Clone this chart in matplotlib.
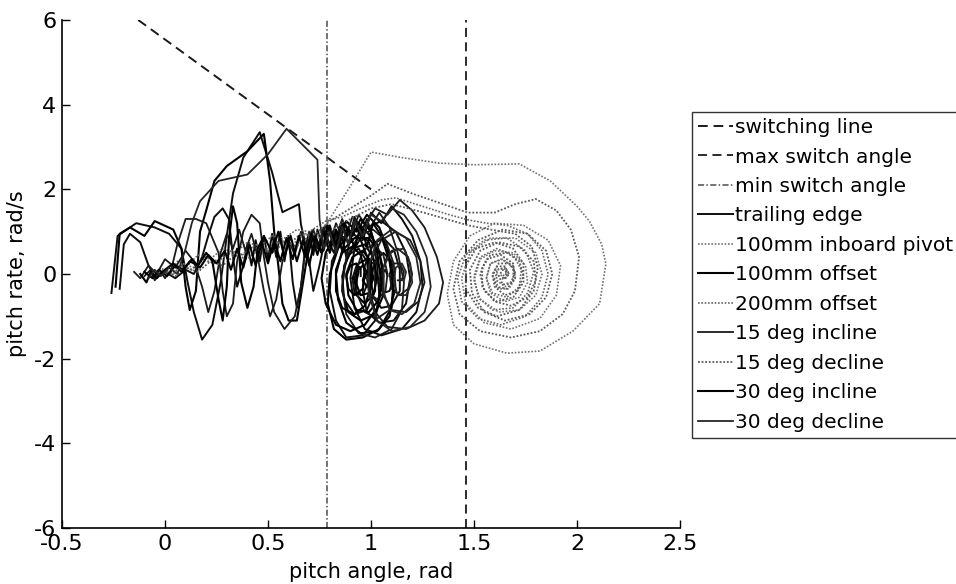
import matplotlib
matplotlib.use("Agg")
import matplotlib.pyplot as plt

plt.rcParams['font.family'] = ['DejaVu Sans']

# ---- switching boundaries ----
switch_line_x = [-0.13, 1.00]
switch_line_y = [6.0, 2.0]
max_switch_angle = 1.46
min_switch_angle = 0.785

# ---- phase trajectories (pitch angle, pitch rate), one list per trial ----
trailing_edge = [
    (-0.26, -0.45), (-0.23, 0.90), (-0.14, 1.20), (-0.05, 1.10), (0.02, 0.95), (0.08, 0.60),
    (0.11, -0.20), (0.14, -0.90), (0.18, -1.55), (0.23, -1.20), (0.27, -0.20), (0.30, 0.90),
    (0.33, 1.90), (0.38, 2.75), (0.46, 3.35), (0.52, 2.40), (0.57, 1.46), (0.65, 1.65),
    (0.66, 1.17), (0.70, 0.30), (0.72, -0.40), (0.75, 0.20), (0.78, 0.90), (0.82, 0.50),
    (0.85, 1.10), (0.88, 0.40), (0.92, 1.30), (0.96, 0.80), (1.00, 1.45), (1.05, 1.20),
    (1.10, 1.60), (1.15, 1.30), (1.20, 0.90), (1.24, 0.30), (1.25, -0.30), (1.22, -0.90),
    (1.15, -1.30), (1.05, -1.45), (0.97, -1.30), (0.92, -0.80), (0.90, -0.10), (0.92, 0.60),
    (0.98, 1.10), (1.05, 1.25), (1.12, 1.00), (1.17, 0.50), (1.19, -0.10), (1.17, -0.70),
    (1.11, -1.10), (1.04, -1.15), (0.98, -0.90), (0.96, -0.40), (0.97, 0.20), (1.01, 0.70),
    (1.06, 0.85), (1.11, 0.60), (1.14, 0.10), (1.14, -0.40), (1.10, -0.75), (1.05, -0.80),
    (1.01, -0.55), (1.00, -0.10), (1.02, 0.30), (1.06, 0.50), (1.10, 0.30), (1.11, -0.10),
    (1.09, -0.40), (1.06, -0.45), (1.04, -0.25), (1.05, 0.00), (1.07, 0.10), (1.08, -0.05),
]

trailing_edge_b = [
    (-0.22, -0.35), (-0.20, 0.70), (-0.17, 0.95), (-0.12, 0.75), (-0.08, 0.20), (-0.05, -0.05),
    (0.00, 0.05), (0.05, -0.10), (0.10, 0.10), (0.14, 0.00), (0.18, 0.40), (0.21, 0.90),
    (0.24, 1.35), (0.28, 1.55), (0.31, 1.30), (0.33, 0.40), (0.35, -0.30), (0.38, 0.20),
    (0.40, 0.70), (0.42, 0.20), (0.44, 0.80), (0.46, 0.30), (0.48, 0.90), (0.50, 0.35),
    (0.52, 0.95), (0.54, 0.40), (0.56, 1.00), (0.58, 0.30), (0.60, 0.90), (0.62, -0.20),
    (0.64, -0.80), (0.66, -0.30), (0.68, 0.60), (0.70, 1.00), (0.72, 0.45), (0.74, 1.05),
    (0.77, 0.55), (0.80, 1.15), (0.83, 0.60), (0.86, 1.20), (0.89, 0.70), (0.92, 1.35),
    (0.95, 0.90), (0.98, 1.30), (1.01, 0.85), (1.03, 0.20), (1.04, -0.50), (1.02, -1.10),
    (0.96, -1.45), (0.88, -1.50), (0.83, -1.10), (0.80, -0.40), (0.81, 0.30), (0.86, 0.85),
    (0.93, 1.05), (0.99, 0.75), (1.02, 0.20), (1.02, -0.40), (0.98, -0.85), (0.92, -0.95),
    (0.87, -0.60), (0.86, -0.05), (0.89, 0.45), (0.94, 0.60), (0.98, 0.30), (0.99, -0.15),
    (0.96, -0.50), (0.92, -0.45), (0.91, -0.10), (0.93, 0.20), (0.95, 0.15), (0.95, -0.05),
]

inboard_pivot_100mm = [
    (-0.10, 0.05), (-0.06, -0.10), (-0.02, 0.10), (0.03, 0.00), (0.08, 0.25), (0.14, 0.15),
    (0.20, 0.40), (0.26, 0.30), (0.32, 0.55), (0.38, 0.45), (0.44, 0.70), (0.50, 0.60),
    (0.56, 0.80), (0.62, 0.70), (0.68, 0.95), (0.74, 0.90), (0.78, 1.15), (0.89, 2.00),
    (1.00, 2.88), (1.15, 2.75), (1.33, 2.62), (1.50, 2.58), (1.72, 2.60), (1.87, 2.20),
    (2.00, 1.60), (2.06, 1.25), (2.12, 0.70), (2.14, 0.24), (2.11, -0.70), (1.98, -1.35),
    (1.82, -1.82), (1.66, -1.87), (1.50, -1.65), (1.40, -1.20), (1.37, -0.47), (1.40, 0.30),
    (1.48, 0.90), (1.60, 1.20), (1.74, 1.15), (1.86, 0.80), (1.92, 0.20), (1.90, -0.50),
    (1.82, -1.05), (1.68, -1.30), (1.55, -1.15), (1.46, -0.70), (1.44, -0.10), (1.48, 0.50),
    (1.58, 0.85), (1.70, 0.85), (1.80, 0.50), (1.83, 0.00), (1.80, -0.50), (1.72, -0.85),
    (1.62, -0.90), (1.53, -0.60), (1.50, -0.15), (1.53, 0.35), (1.60, 0.55), (1.69, 0.50),
    (1.75, 0.20), (1.76, -0.20), (1.72, -0.55), (1.65, -0.65), (1.58, -0.45), (1.56, -0.10),
    (1.58, 0.25), (1.63, 0.35), (1.69, 0.20), (1.70, -0.10), (1.67, -0.35), (1.62, -0.35),
    (1.60, -0.10), (1.62, 0.12), (1.65, 0.12), (1.66, -0.05), (1.64, -0.12), (1.63, 0.00),
]

offset_100mm = [
    (-0.24, -0.30), (-0.22, 0.95), (-0.17, 1.10), (-0.10, 0.90), (-0.05, 1.25), (0.04, 1.05),
    (0.08, 0.60), (0.10, -0.30), (0.12, -0.85), (0.15, -0.40), (0.17, 1.00), (0.20, 1.50),
    (0.24, 2.20), (0.30, 2.55), (0.40, 2.90), (0.48, 3.31), (0.51, 2.20), (0.53, 1.00),
    (0.55, 0.20), (0.57, -0.70), (0.60, -1.10), (0.64, -1.10), (0.66, -0.50), (0.69, 0.40),
    (0.72, 0.90), (0.76, 0.50), (0.80, 1.10), (0.84, 0.70), (0.88, 1.25), (0.93, 1.00),
    (0.98, 1.40), (1.04, 1.10), (1.08, 0.60), (1.11, -0.10), (1.10, -0.80), (1.04, -1.30),
    (0.96, -1.50), (0.88, -1.55), (0.82, -1.30), (0.79, -0.70), (0.80, 0.00), (0.84, 0.60),
    (0.90, 1.00), (0.97, 1.05), (1.03, 0.70), (1.06, 0.10), (1.06, -0.50), (1.02, -0.95),
    (0.95, -1.10), (0.89, -0.90), (0.86, -0.40), (0.87, 0.20), (0.91, 0.60), (0.97, 0.70),
    (1.01, 0.40), (1.03, -0.10), (1.01, -0.50), (0.97, -0.70), (0.93, -0.50), (0.92, -0.10),
    (0.94, 0.25), (0.98, 0.35), (1.00, 0.10), (1.00, -0.20), (0.98, -0.30), (0.96, -0.15),
    (0.97, 0.00),
]

offset_200mm = [
    (-0.06, -0.05), (-0.02, 0.15), (0.02, 0.00), (0.06, 0.30), (0.11, 0.20), (0.16, 0.45),
    (0.22, 0.35), (0.28, 0.60), (0.34, 0.50), (0.40, 0.75), (0.46, 0.65), (0.52, 0.90),
    (0.58, 0.85), (0.64, 1.05), (0.70, 1.00), (0.78, 1.25), (0.86, 1.35), (0.95, 1.55),
    (1.05, 1.75), (1.12, 1.80), (1.25, 1.60), (1.38, 1.40), (1.47, 1.28), (1.56, 1.20),
    (1.66, 1.15), (1.76, 0.95), (1.83, 0.55), (1.86, 0.00), (1.83, -0.55), (1.75, -1.00),
    (1.63, -1.20), (1.52, -1.05), (1.44, -0.65), (1.42, -0.10), (1.46, 0.45), (1.55, 0.80),
    (1.66, 0.85), (1.75, 0.55), (1.79, 0.05), (1.76, -0.45), (1.69, -0.80), (1.59, -0.85),
    (1.52, -0.55), (1.50, -0.05), (1.53, 0.40), (1.61, 0.60), (1.69, 0.45), (1.73, 0.10),
    (1.72, -0.30), (1.66, -0.55), (1.59, -0.45), (1.56, -0.10), (1.58, 0.25), (1.64, 0.35),
    (1.69, 0.15), (1.69, -0.15), (1.65, -0.30), (1.61, -0.15), (1.61, 0.10), (1.65, 0.15),
    (1.67, 0.00), (1.65, -0.10), (1.64, 0.00),
]

incline_15deg = [
    (-0.10, -0.05), (-0.07, 0.10), (-0.05, -0.15), (-0.02, 0.05), (0.00, -0.10), (0.03, 0.10),
    (0.06, 0.70), (0.10, 1.30), (0.15, 1.30), (0.20, 1.20), (0.26, 0.50), (0.28, -0.40),
    (0.30, -1.00), (0.33, -0.70), (0.35, 0.30), (0.38, 1.00), (0.42, 1.40), (0.46, 1.20),
    (0.48, 0.40), (0.50, -0.20), (0.53, -0.90), (0.58, -1.30), (0.63, -1.00), (0.66, -0.30),
    (0.68, 0.50), (0.71, 1.00), (0.74, 0.60), (0.77, 1.10), (0.80, 0.70), (0.83, 1.20),
    (0.87, 0.80), (0.91, 1.35), (0.96, 1.10), (1.02, 1.55), (1.08, 1.40), (1.14, 1.75),
    (1.20, 1.50), (1.26, 1.10), (1.32, 0.40), (1.35, -0.20), (1.33, -0.70), (1.26, -1.10),
    (1.17, -1.30), (1.08, -1.25), (1.02, -0.90), (0.99, -0.30), (1.00, 0.30), (1.05, 0.80),
    (1.12, 1.00), (1.19, 0.80), (1.24, 0.30), (1.26, -0.20), (1.23, -0.65), (1.17, -0.90),
    (1.10, -0.85), (1.06, -0.50), (1.05, 0.00), (1.08, 0.45), (1.13, 0.60), (1.18, 0.40),
    (1.20, 0.00), (1.18, -0.35), (1.14, -0.50), (1.10, -0.35), (1.09, 0.00), (1.11, 0.25),
    (1.14, 0.25), (1.16, 0.05), (1.15, -0.15), (1.13, -0.15),
]

incline_15deg_b = [
    (-0.15, 0.05), (-0.12, -0.10), (-0.08, 0.20), (-0.04, 0.00), (0.00, 0.35), (0.05, 0.15),
    (0.10, 0.55), (0.14, 0.30), (0.18, -0.30), (0.21, -0.90), (0.24, -0.40), (0.27, 0.50),
    (0.30, 0.95), (0.33, 0.60), (0.36, 1.05), (0.39, 0.55), (0.42, 0.95), (0.45, 0.40),
    (0.48, -0.40), (0.51, -1.00), (0.54, -0.60), (0.57, 0.30), (0.60, 0.80), (0.63, 0.45),
    (0.66, 1.00), (0.69, 0.50), (0.72, 1.05), (0.75, 0.60), (0.78, 1.15), (0.82, 0.70),
    (0.86, 1.30), (0.90, 0.85), (0.94, 1.40), (0.99, 1.05), (1.04, 1.45), (1.09, 1.10),
    (1.13, 0.50), (1.16, -0.20), (1.15, -0.85), (1.10, -1.30), (1.02, -1.50), (0.94, -1.40),
    (0.88, -0.95), (0.86, -0.30), (0.88, 0.40), (0.94, 0.90), (1.01, 1.05), (1.07, 0.80),
    (1.11, 0.25), (1.12, -0.35), (1.09, -0.85), (1.03, -1.05), (0.97, -0.90), (0.93, -0.45),
    (0.93, 0.10), (0.96, 0.55), (1.01, 0.70), (1.06, 0.45), (1.08, 0.00), (1.07, -0.40),
    (1.03, -0.60), (0.99, -0.45), (0.98, -0.10), (1.00, 0.25), (1.03, 0.30), (1.05, 0.05),
    (1.04, -0.20), (1.02, -0.20), (1.01, -0.05),
]

decline_15deg = [
    (-0.03, -0.05), (0.00, 0.10), (0.04, 0.00), (0.08, 0.20), (0.13, 0.10), (0.18, 0.35),
    (0.24, 0.25), (0.30, 0.50), (0.36, 0.40), (0.42, 0.65), (0.48, 0.55), (0.54, 0.75),
    (0.60, 0.70), (0.66, 0.95), (0.72, 0.90), (0.80, 1.25), (0.90, 1.55), (1.00, 1.85),
    (1.08, 2.13), (1.20, 1.90), (1.35, 1.65), (1.47, 1.45), (1.60, 1.45), (1.70, 1.65),
    (1.80, 1.77), (1.90, 1.50), (1.97, 1.05), (2.01, 0.40), (1.99, -0.40), (1.93, -0.95),
    (1.82, -1.35), (1.68, -1.50), (1.53, -1.35), (1.43, -0.95), (1.40, -0.35), (1.43, 0.30),
    (1.52, 0.80), (1.64, 1.05), (1.76, 0.95), (1.85, 0.55), (1.88, 0.00), (1.85, -0.55),
    (1.77, -0.95), (1.65, -1.10), (1.55, -0.90), (1.49, -0.45), (1.48, 0.10), (1.53, 0.55),
    (1.62, 0.75), (1.72, 0.65), (1.79, 0.30), (1.80, -0.15), (1.76, -0.55), (1.68, -0.75),
    (1.60, -0.65), (1.54, -0.30), (1.54, 0.15), (1.58, 0.45), (1.66, 0.50), (1.72, 0.30),
    (1.74, -0.05), (1.71, -0.40), (1.65, -0.50), (1.60, -0.30), (1.59, 0.00), (1.62, 0.25),
    (1.67, 0.25), (1.70, 0.05), (1.68, -0.20), (1.64, -0.25), (1.62, -0.05), (1.64, 0.10),
    (1.66, 0.05), (1.65, -0.05),
]

decline_15deg_b = [
    (0.00, 0.05), (0.05, -0.05), (0.10, 0.15), (0.16, 0.05), (0.22, 0.30), (0.28, 0.20),
    (0.34, 0.45), (0.40, 0.35), (0.46, 0.60), (0.52, 0.50), (0.58, 0.75), (0.64, 0.65),
    (0.70, 0.90), (0.76, 0.85), (0.84, 1.15), (0.92, 1.35), (1.00, 1.55), (1.10, 1.65),
    (1.22, 1.50), (1.35, 1.32), (1.47, 1.15), (1.58, 1.05), (1.70, 0.95), (1.78, 0.65),
    (1.81, 0.15), (1.79, -0.40), (1.72, -0.85), (1.61, -1.00), (1.52, -0.80), (1.46, -0.35),
    (1.46, 0.20), (1.51, 0.60), (1.60, 0.75), (1.69, 0.60), (1.74, 0.25), (1.74, -0.20),
    (1.69, -0.55), (1.61, -0.65), (1.55, -0.40), (1.53, 0.00), (1.56, 0.35), (1.63, 0.45),
    (1.69, 0.25), (1.70, -0.10), (1.66, -0.35), (1.61, -0.30), (1.59, -0.05), (1.61, 0.18),
    (1.65, 0.18), (1.67, 0.00), (1.65, -0.12), (1.63, -0.05),
]

incline_30deg = [
    (-0.12, 0.00), (-0.09, -0.20), (-0.07, 0.05), (-0.04, -0.10), (0.00, 0.10), (0.04, 0.25),
    (0.08, 0.05), (0.12, 0.30), (0.16, 0.20), (0.20, 0.50), (0.23, 0.30), (0.26, -0.60),
    (0.28, -1.10), (0.30, -0.30), (0.31, 0.80), (0.33, 1.60), (0.35, 1.20), (0.37, -0.20),
    (0.40, -0.80), (0.43, -0.30), (0.45, 0.60), (0.48, 0.90), (0.52, 0.50), (0.55, 1.00),
    (0.58, 0.40), (0.61, 0.90), (0.64, 0.30), (0.67, 0.80), (0.70, 0.20), (0.73, 0.90),
    (0.76, 0.50), (0.79, 1.15), (0.83, 0.70), (0.87, 1.20), (0.91, 0.90), (0.95, 1.30),
    (1.00, 1.00), (1.03, 0.50), (1.05, -0.20), (1.03, -0.80), (0.97, -1.20), (0.90, -1.35),
    (0.83, -1.20), (0.78, -0.70), (0.76, -0.10), (0.78, 0.50), (0.83, 0.95), (0.89, 1.05),
    (0.95, 0.80), (0.99, 0.30), (1.00, -0.30), (0.97, -0.75), (0.92, -0.95), (0.86, -0.80),
    (0.83, -0.40), (0.83, 0.10), (0.86, 0.50), (0.91, 0.65), (0.95, 0.45), (0.97, 0.05),
    (0.96, -0.35), (0.92, -0.50), (0.89, -0.35), (0.88, -0.05), (0.90, 0.20), (0.93, 0.25),
    (0.94, 0.05), (0.93, -0.15), (0.91, -0.10),
]

incline_30deg_b = [
    (-0.10, 0.05), (-0.06, -0.10), (-0.03, 0.10), (0.01, -0.05), (0.05, 0.20), (0.09, 0.10),
    (0.13, 0.35), (0.17, 0.15), (0.21, 0.45), (0.25, 0.25), (0.29, 0.55), (0.32, 0.10),
    (0.35, 0.60), (0.38, 0.15), (0.41, 0.70), (0.44, 0.20), (0.47, 0.75), (0.50, 0.25),
    (0.53, 0.80), (0.56, 0.30), (0.59, 0.85), (0.62, 0.35), (0.65, 0.90), (0.68, 0.40),
    (0.71, 0.95), (0.74, 0.45), (0.77, 1.00), (0.80, 0.50), (0.83, 1.05), (0.86, 0.55),
    (0.89, 1.10), (0.92, 0.60), (0.95, 1.15), (0.98, 0.65), (1.01, 1.20), (1.05, 0.90),
    (1.09, 0.30), (1.11, -0.40), (1.09, -1.00), (1.03, -1.35), (0.95, -1.40), (0.88, -1.15),
    (0.84, -0.60), (0.83, 0.00), (0.86, 0.55), (0.92, 0.85), (0.99, 0.85), (1.04, 0.50),
    (1.06, -0.05), (1.04, -0.60), (0.99, -0.90), (0.93, -0.85), (0.89, -0.50), (0.88, 0.00),
    (0.91, 0.40), (0.96, 0.55), (1.00, 0.30), (1.01, -0.10), (0.99, -0.45), (0.95, -0.50),
    (0.93, -0.25), (0.93, 0.05), (0.96, 0.20), (0.98, 0.05), (0.97, -0.10),
]

decline_30deg = [
    (-0.08, -0.10), (-0.05, 0.10), (-0.02, -0.05), (0.02, 0.15), (0.06, 0.00), (0.10, 0.60),
    (0.13, 1.20), (0.17, 1.72), (0.26, 2.20), (0.40, 2.35), (0.50, 2.83), (0.59, 3.43),
    (0.74, 2.70), (0.75, 1.30), (0.77, 0.60), (0.80, 1.00), (0.83, 0.50), (0.86, 1.10),
    (0.89, 0.70), (0.92, 1.25), (0.96, 0.90), (1.00, 1.40), (1.05, 1.25), (1.10, 1.55),
    (1.16, 1.40), (1.22, 1.00), (1.27, 0.40), (1.29, -0.30), (1.26, -0.90), (1.19, -1.25),
    (1.10, -1.35), (1.03, -1.10), (0.99, -0.50), (0.99, 0.20), (1.03, 0.80), (1.10, 1.05),
    (1.17, 0.85), (1.22, 0.40), (1.24, -0.20), (1.21, -0.70), (1.15, -0.95), (1.09, -0.85),
    (1.06, -0.40), (1.06, 0.15), (1.10, 0.55), (1.16, 0.60), (1.19, 0.25), (1.20, -0.20),
    (1.17, -0.50), (1.13, -0.50), (1.11, -0.20), (1.12, 0.15), (1.15, 0.25), (1.17, 0.05),
    (1.16, -0.15), (1.14, -0.10),
]

dotted = (0, (1, 1))
runs = [
    ("trailing edge", [trailing_edge, trailing_edge_b], dict(color="0.05", lw=1.4, ls="-")),
    ("100mm inboard pivot", [inboard_pivot_100mm], dict(color="0.45", lw=1.2, ls=dotted)),
    ("100mm offset", [offset_100mm], dict(color="0.0", lw=1.5, ls="-")),
    ("200mm offset", [offset_200mm], dict(color="0.4", lw=1.2, ls=dotted)),
    ("15 deg incline", [incline_15deg, incline_15deg_b], dict(color="0.1", lw=1.3, ls="-")),
    ("15 deg decline", [decline_15deg, decline_15deg_b], dict(color="0.35", lw=1.3, ls=dotted)),
    ("30 deg incline", [incline_30deg, incline_30deg_b], dict(color="0.0", lw=1.5, ls="-")),
    ("30 deg decline", [decline_30deg], dict(color="0.15", lw=1.3, ls="-")),
]

fig = plt.figure(figsize=(9.56, 5.84), dpi=100)
ax = fig.add_axes([62 / 956, 1 - 528 / 584, 618 / 956, 508 / 584])

handles = []
h, = ax.plot(switch_line_x, switch_line_y, color="0.1", lw=1.4, ls=(0, (5, 3)),
             label="switching line")
handles.append(h)
h, = ax.plot([max_switch_angle, max_switch_angle], [-6, 6], color="0.1", lw=1.3,
             ls=(0, (5, 3)), label="max switch angle")
handles.append(h)
h, = ax.plot([min_switch_angle, min_switch_angle], [-6, 6], color="0.3", lw=1.1,
             ls=(0, (4, 1.5, 1, 1.5)), label="min switch angle")
handles.append(h)

for name, trials, style in runs:
    for i, pts in enumerate(trials):
        xs = [p[0] for p in pts]
        ys = [p[1] for p in pts]
        h, = ax.plot(xs, ys, label=name if i == 0 else "_nolegend_", **style)
        if i == 0:
            handles.append(h)

ax.set_xlim(-0.5, 2.5)
ax.set_ylim(-6, 6)
ax.set_xticks([-0.5, 0, 0.5, 1, 1.5, 2, 2.5])
ax.set_xticklabels(["-0.5", "0", "0.5", "1", "1.5", "2", "2.5"])
ax.set_yticks([-6, -4, -2, 0, 2, 4, 6])
ax.set_yticklabels(["-6", "-4", "-2", "0", "2", "4", "6"])
ax.spines["top"].set_visible(False)
ax.spines["right"].set_visible(False)
for s in ("left", "bottom"):
    ax.spines[s].set_linewidth(1.2)
ax.tick_params(direction="in", length=6, width=1.0, labelsize=16, pad=4)

ax.set_xlabel("pitch angle, rad", fontsize=15, labelpad=6)
ax.set_ylabel("pitch rate, rad/s", fontsize=15, labelpad=5)

leg = fig.legend(handles=handles, loc="upper left", bbox_to_anchor=(692 / 956, 1 - 112 / 584),
                 bbox_transform=fig.transFigure, fontsize=14.5, frameon=True, fancybox=False,
                 borderaxespad=0, borderpad=0.3, labelspacing=0.52, handlelength=1.75,
                 handletextpad=0.1)
leg.get_frame().set_edgecolor("black")
leg.get_frame().set_linewidth(1.0)

fig.savefig("out.png", dpi=100, facecolor="white")
